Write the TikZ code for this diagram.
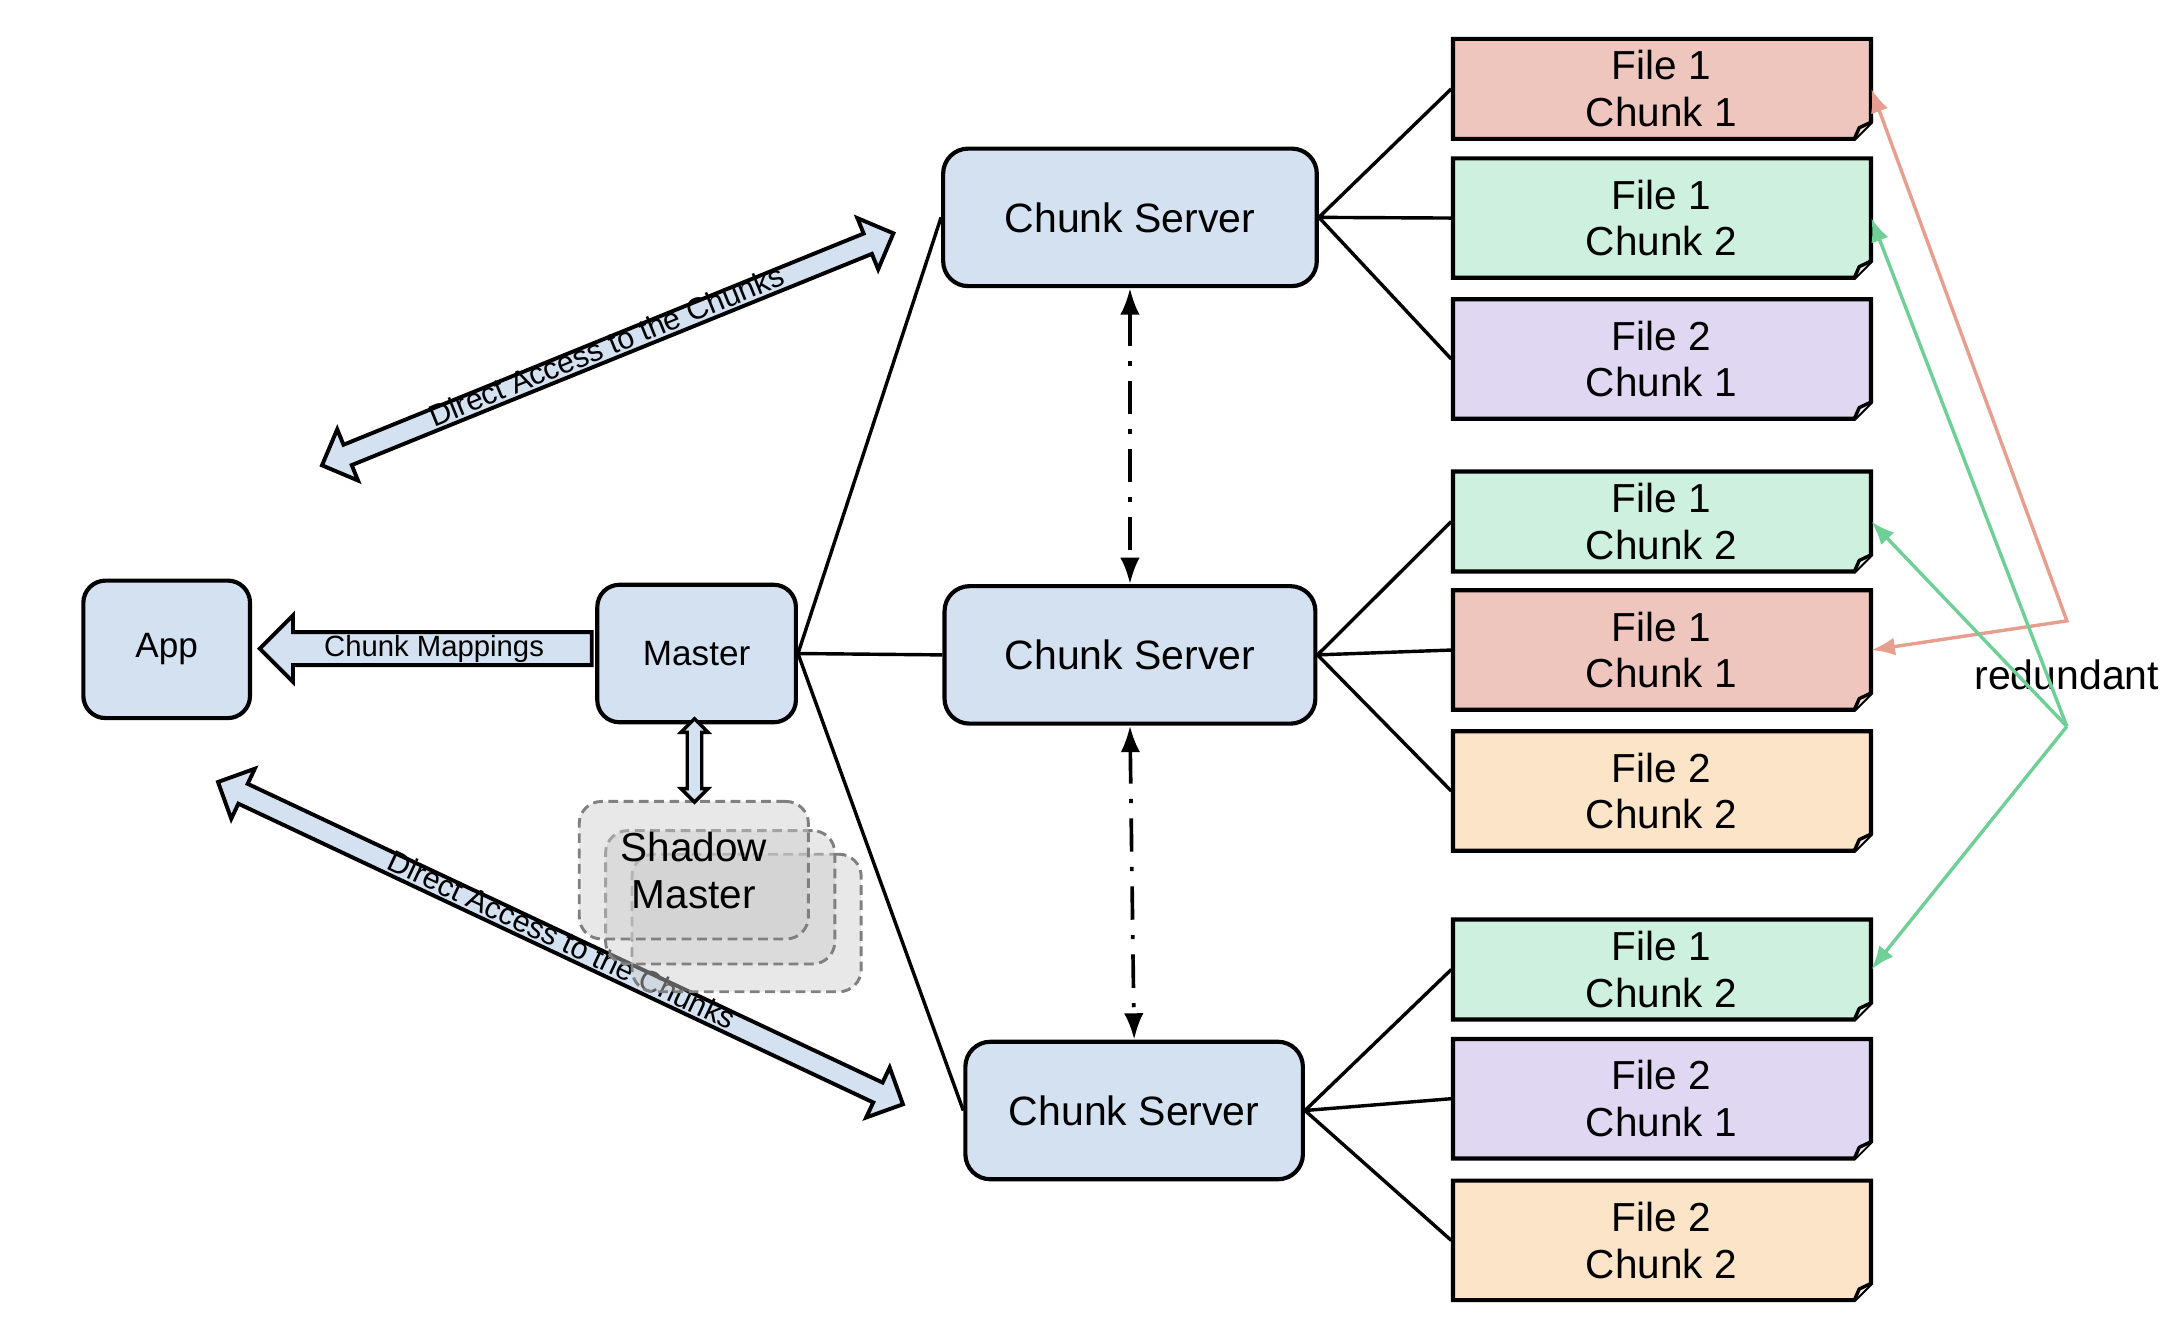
\documentclass[tikz,border=0pt]{standalone}
\usepackage{fontspec}
\setmainfont{Liberation Sans}
\usetikzlibrary{shapes.arrows,arrows.meta}

\definecolor{boxblue}{RGB}{211,225,241}
\definecolor{filered}{RGB}{239,198,190}
\definecolor{filegreen}{RGB}{206,240,223}
\definecolor{filepurple}{RGB}{224,215,242}
\definecolor{fileorange}{RGB}{252,228,201}
\definecolor{redline}{RGB}{230,158,143}
\definecolor{greenline}{RGB}{111,207,151}

\begin{document}
\begin{tikzpicture}[x=0.1mm, y=-0.1mm,
    box/.style={draw, line width=0.85pt, fill=boxblue, rounded corners=1.6mm, minimum height=9.9mm, inner sep=0pt},
    server/.style={box, rounded corners=1.8mm, font=\fontsize{8.4}{10}\selectfont},
    small/.style={box, font=\fontsize{7.2}{9}\selectfont},
    chunkfile/.style={minimum width=30.1mm, inner sep=0pt, align=center, font=\fontsize{8.3}{9.6}\selectfont},
    shadowbox/.style={draw=black!50, dash pattern=on 0.7mm off 0.4mm, line width=0.6pt, fill=black!20, fill opacity=0.45, draw opacity=1, text opacity=1, rounded corners=1.6mm, minimum width=16.5mm, minimum height=9.9mm, inner sep=0pt, align=center, font=\fontsize{8.3}{9.6}\selectfont},
    link/.style={line width=0.7pt},
    fatarrow/.style={draw, line width=0.8pt, fill=boxblue, inner sep=0pt},
    access/.style={fatarrow, double arrow, double arrow head extend=1.2mm, text height=1.15mm, text depth=0.15mm, font=\fontsize{6.2}{7}\selectfont},
    replica/.style={line width=0.75pt, dash pattern=on 2.4mm off 1.1mm on 0.3mm off 1.1mm, {Latex[length=1.9mm,width=1.4mm]}-{Latex[length=1.9mm,width=1.4mm]}},
    redundancy/.style={line width=0.7pt, line join=miter},
    ]
  \useasboundingbox (0,0) rectangle (1568,953);

  % files held by the chunk servers
  \foreach \n/\y/\h/\col/\f/\c in {1/64/72/filered/1/1, 2/157/86/filegreen/1/2, 3/258.5/86/filepurple/2/1,
      4/375.5/72/filegreen/1/2, 5/468/86/filered/1/1, 6/569.5/86/fileorange/2/2,
      7/698/72/filegreen/1/2, 8/791/86/filepurple/2/1, 9/893/86/fileorange/2/2} {
    \filldraw[fill=\col, line width=0.85pt] (1046,{\y-\h/2}) -- (1347,{\y-\h/2}) -- (1347,{\y+\h/2-12})
      -- (1335,{\y+\h/2}) -- (1046,{\y+\h/2}) -- cycle;
    \filldraw[fill=\col!45!white, line width=0.7pt, line join=round] (1335,{\y+\h/2}) -- (1338.5,{\y+\h/2-8}) -- (1347,{\y+\h/2-12});
    \node[chunkfile, minimum height=\h*0.1mm] (f\n) at (1196,\y) {File \f\\Chunk \c};
  }

  \node[server, minimum width=26.9mm] (cs1) at (813.5,156.5) {Chunk Server};
  \node[server, minimum width=26.7mm] (cs2) at (813.5,471.5) {Chunk Server};
  \node[server, minimum width=24.3mm] (cs3) at (816.5,799.5) {Chunk Server};

  \node[small, minimum width=12mm] (app) at (120,467.5) {App};
  \node[small, minimum width=14.3mm] (master) at (501.5,470.5) {Master};

  \foreach \s/\a/\b/\c in {cs1/1/2/3, cs2/4/5/6, cs3/7/8/9}
    \draw[link] (\s.east) -- (f\a.west) (\s.east) -- (f\b.west) (\s.east) -- (f\c.west);
  \foreach \s in {cs1,cs2,cs3}
    \draw[link] (master.east) -- (\s.west);

  \draw[replica] (cs1.south) -- (cs2.north);
  \draw[replica] (cs2.south) -- (cs3.north);

  % fat arrows
  \node[fatarrow, single arrow, shape border rotate=180, single arrow head extend=1.2mm,
    text height=1.6mm, text depth=0.5mm, minimum height=23.9mm, font=\fontsize{6}{7}\selectfont]
    (mapping) at (312.5,467) {Chunk Mappings};
  \node[access, rotate=22.1, minimum height=44.4mm] (upper) at (437.5,251.5) {Direct Access to the Chunks};
  \node[access, rotate=-25.2, minimum height=54.5mm] (lower) at (403.5,679) {Direct Access to the Chunks};

  % shadow masters
  \node[shadowbox] (shadow3) at (537.5,664.5) {};
  \node[shadowbox, minimum height=9.6mm] (shadow2) at (518.5,646) {};
  \node[shadowbox] (shadow) at (499.5,626.5) {Shadow\\Master};
  \node[fatarrow, double arrow, rotate=90, double arrow head extend=0.45mm, text height=0.8mm,
    text depth=0pt, minimum height=6mm, line width=0.7pt] (backup) at (500,547.5) {};

  % redundant copies
  \node[font=\fontsize{8.4}{10}\selectfont] (redundant) at (1488,486) {redundant};
  \coordinate (redtop) at (1488,447);
  \coordinate (greentop) at (1488,523);
  \draw[redundancy, draw=redline, {Latex[length=1.7mm,width=1.3mm]}-{Latex[length=1.7mm,width=1.3mm]}]
    (f1.east) -- (redtop) -- (f5.east);
  \foreach \t in {f2,f4,f7}
    \draw[redundancy, draw=greenline, -{Latex[length=1.7mm,width=1.3mm]}] (greentop) -- (\t.east);
\end{tikzpicture}
\end{document}
